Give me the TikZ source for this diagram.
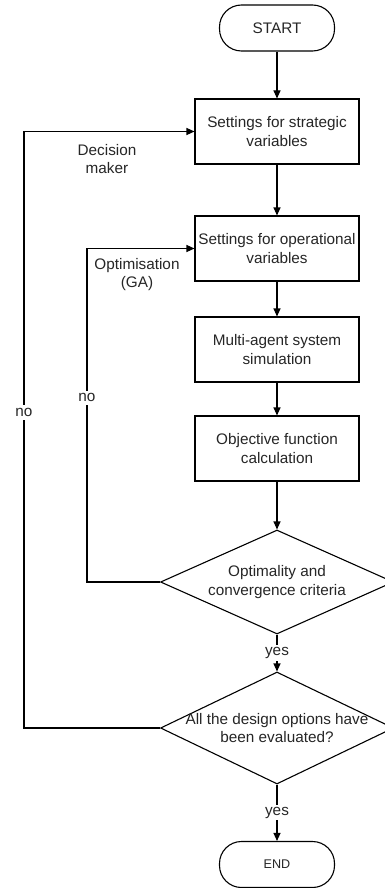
\documentclass[tikz,border=0pt]{standalone}
\usepackage{fontspec}
\setmainfont{Liberation Sans}
\usetikzlibrary{shapes.geometric,arrows.meta}
\begin{document}
\begin{tikzpicture}[x=1pt,y=-1pt,
  every node/.style={font=\fontsize{15.3}{18.5}\selectfont, text=black!85},
  box/.style={draw, line width=1.1pt, minimum width=164pt, minimum height=65pt, align=center, inner sep=1pt},
  term/.style={draw, line width=1.1pt, rectangle, rounded corners=22pt, minimum width=115pt, minimum height=46pt},
  dia/.style={draw, line width=1.1pt, diamond, inner sep=0pt, minimum width=233pt, minimum height=#1},
  lbl/.style={align=center, inner sep=1pt},
  arr/.style={line width=1.1pt, -{Triangle[length=8pt,width=7pt]}},
  ln/.style={line width=1.1pt}]
\useasboundingbox (0,0) rectangle (385,888);
\clip (0,0) rectangle (385,888);
\fill[white] (0,0) rectangle (385,888);

\node[term] (start) at (277,28) {START};
\node[box] (b1) at (277,131.5) {Settings for strategic\\variables};
\node[box] (b2) at (277,248.5) {Settings for operational\\variables};
\node[box] (b3) at (277,349.5) {Multi-agent system\\simulation};
\node[box] (b4) at (277,448.5) {Objective function\\calculation};
\node[dia=104pt] (d1) at (277,582) {};
\node[lbl] (d1t) at (277,582) {Optimality and\\convergence criteria};
\node[dia=112pt] (d2) at (277,728) {};
\node[lbl] (d2t) at (277,728) {All the design options have\\been evaluated?};
\node[term, font=\fontsize{12.6}{15}\selectfont] (end) at (277,864.5) {END};

\node[lbl] (dm) at (107,159) {Decision\\maker};
\node[lbl] (ga) at (137,274.5) {Optimisation\\(GA)};

\coordinate (o1) at (24,728);
\coordinate (o2) at (24,131.5);
\coordinate (i1) at (87,582);
\coordinate (i2) at (87,248.5);

\draw[arr] (start) -- (b1);
\draw[arr] (b1) -- (b2);
\draw[arr] (b2) -- (b3);
\draw[arr] (b3) -- (b4);
\draw[arr] (b4) -- (d1.north);
\draw[arr] (d1.south) -- node[fill=white, inner sep=2pt] (y1) {yes} (d2.north);
\draw[arr] (d2.south) -- node[fill=white, inner sep=2pt] (y2) {yes} (end);
\draw[arr] (d2.west) -- (o1) -- node[pos=0.529, fill=white, inner sep=3pt] (n1) {no} (o2) -- (b1.west);
\draw[arr] (d1.west) -- (i1) -- node[pos=0.552, fill=white, inner sep=3pt] (n2) {no} (i2) -- (b2.west);
\end{tikzpicture}
\end{document}
